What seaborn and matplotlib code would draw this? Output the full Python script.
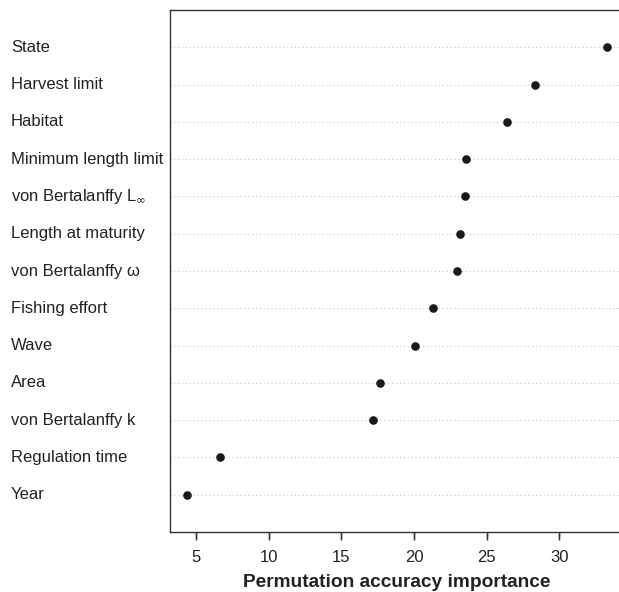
import matplotlib
matplotlib.use("Agg")
import matplotlib.pyplot as plt
import matplotlib.transforms as mtransforms
import seaborn as sns
import pandas as pd

variables = ["State", "Harvest limit", "Habitat", "Minimum length limit",
             "von Bertalanffy L$_{\\infty}$", "Length at maturity",
             "von Bertalanffy \u03c9", "Fishing effort", "Wave", "Area",
             "von Bertalanffy k", "Regulation time", "Year"]
importance = [33.28, 28.33, 26.4, 23.58, 23.5, 23.15, 22.96, 21.3, 20.05,
              17.65, 17.2, 6.65, 4.4]
xticks = [5, 10, 15, 20, 25, 30]

df = pd.DataFrame({"var": variables, "imp": importance})

sns.set_theme(style="ticks")
plt.rcParams['font.family'] = ['Liberation Sans', 'DejaVu Sans']

fig = plt.figure(figsize=(6.19, 5.92), dpi=100)
ax = fig.add_axes([170 / 619, 60 / 592, 454 / 619, 522 / 592])

for i in range(len(variables)):
    ax.axhline(i, color="#c8c8c8", lw=0.8, ls=(0, (1, 2.5)), zorder=0)

sns.stripplot(data=df, x="imp", y="var", order=variables, jitter=False,
              color="#1a1a1a", size=6.2, ax=ax, zorder=3)

ax.set_xlim(3.21, 34.45)
ax.set_ylim(13.0, -1.0)
ax.set_xticks(xticks)
ax.set_xticklabels([str(t) for t in xticks], fontsize=12, color="#222222")
ax.set_yticks([])
ax.set_ylabel("")
ax.set_xlabel("Permutation accuracy importance", fontsize=13.8,
              fontweight="bold", color="#222222", labelpad=6.5)
for s in ["left", "top", "bottom"]:
    ax.spines[s].set_visible(True)
    ax.spines[s].set_color("#333333")
    ax.spines[s].set_linewidth(1.0)
ax.spines["right"].set_visible(False)
ax.tick_params(axis="x", which="major", direction="out", length=6, width=1.0,
               color="#333333", labelcolor="#222222", pad=7,
               bottom=True, labelbottom=True, top=False)

# explicit tick marks below the axis (axis decoration)
tick_tr = mtransforms.blended_transform_factory(ax.transData, ax.transAxes)
tick_len = 6 / 522
for t in xticks:
    ax.plot([t, t], [0, -tick_len], transform=tick_tr, color="#333333",
            lw=1.0, clip_on=False, solid_capstyle="butt", zorder=6)

trans = mtransforms.blended_transform_factory(fig.transFigure, ax.transData)
for i, v in enumerate(variables):
    ax.text(11 / 619, i, v, transform=trans, ha="left", va="center",
            fontsize=12, color="#222222", clip_on=False)

fig.savefig("out.png", dpi=100)
